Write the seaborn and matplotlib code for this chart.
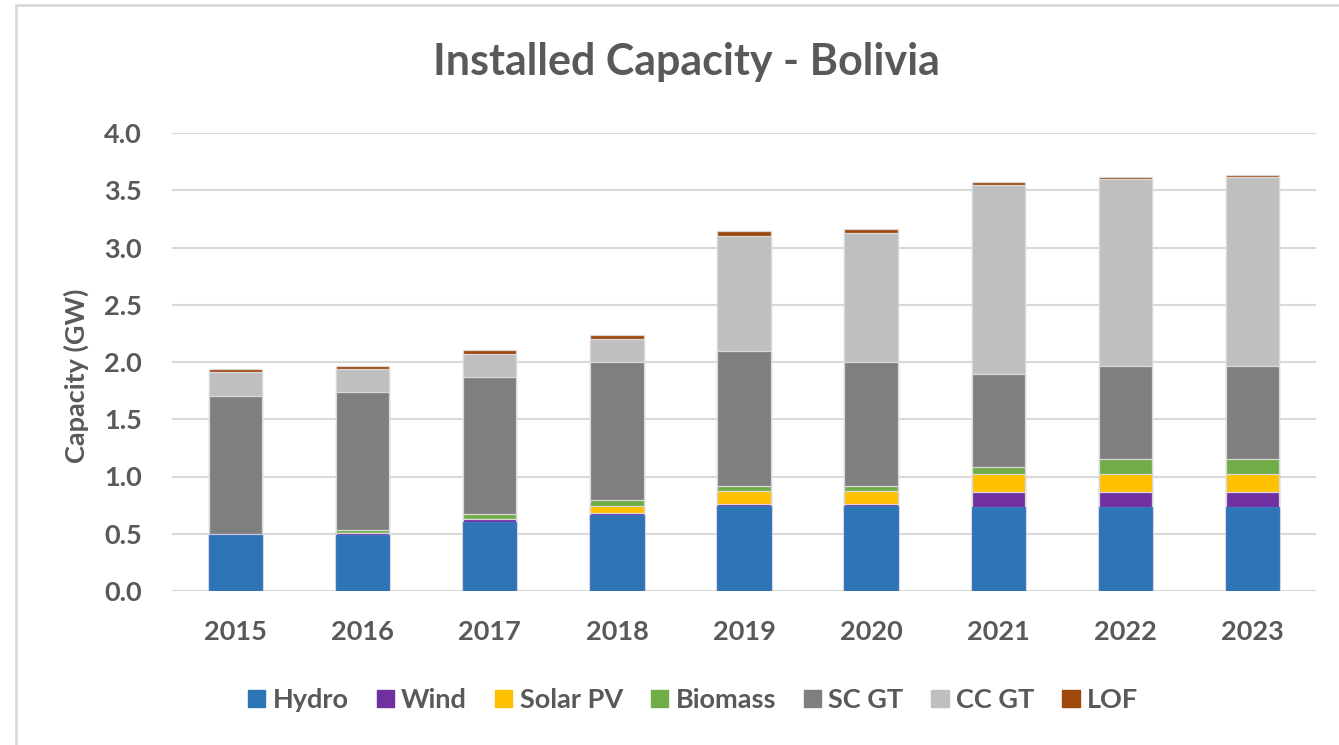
import matplotlib
matplotlib.use("Agg")
import matplotlib.pyplot as plt
import seaborn as sns
import pandas as pd
from matplotlib.patches import Rectangle, Patch

years = ["2015", "2016", "2017", "2018", "2019", "2020", "2021", "2022", "2023"]
hydro = [0.485, 0.490, 0.604, 0.663, 0.741, 0.741, 0.735, 0.735, 0.735]
wind = [0.000, 0.015, 0.021, 0.017, 0.017, 0.017, 0.128, 0.128, 0.128]
solar_pv = [0.000, 0.000, 0.000, 0.059, 0.116, 0.116, 0.163, 0.163, 0.163]
biomass = [0.017, 0.029, 0.044, 0.058, 0.047, 0.047, 0.058, 0.131, 0.131]
sc_gt = [1.200, 1.200, 1.197, 1.200, 1.177, 1.075, 0.811, 0.811, 0.811]
cc_gt = [0.207, 0.205, 0.207, 0.207, 1.003, 1.134, 1.649, 1.634, 1.648]
lof = [0.029, 0.029, 0.029, 0.029, 0.044, 0.029, 0.029, 0.017, 0.018]

series = ["Hydro", "Wind", "Solar PV", "Biomass", "SC GT", "CC GT", "LOF"]
colors = ["#2E75B6", "#7030A0", "#FFC000", "#70AD47", "#7F7F7F", "#BFBFBF", "#9E480E"]

df = pd.DataFrame({"Year": years, "Hydro": hydro, "Wind": wind, "Solar PV": solar_pv,
                   "Biomass": biomass, "SC GT": sc_gt, "CC GT": cc_gt, "LOF": lof})
cum = df[series].cumsum(axis=1)
cum["Year"] = years

sns.set_style("white")
plt.rcParams["font.family"] = ["Lato", "DejaVu Sans"]
txt = "#595959"

fig = plt.figure(figsize=(13.39, 7.45), dpi=100)
ax = fig.add_axes([172 / 1339, 1 - 591 / 745, 1144 / 1339, 458 / 745])

# draw cumulative totals from the top layer down so each layer covers the one above
for name, col in reversed(list(zip(series, colors))):
    edge = "#4472C4" if name == "Hydro" else "#D9D9D9"
    sns.barplot(data=cum, x="Year", y=name, color=col, width=0.42, saturation=1,
                edgecolor=edge, linewidth=0.9, ax=ax, zorder=3)

ax.set_ylim(0, 4)
ax.set_xlim(-0.5, 8.5)
ax.set_yticks([0, 0.5, 1, 1.5, 2, 2.5, 3, 3.5, 4])
ax.set_yticklabels([f"{v:.1f}" for v in ax.get_yticks()])
ax.yaxis.grid(True, color="#D9D9D9", linewidth=1.5, zorder=0)
ax.set_axisbelow(True)
for s in ax.spines.values():
    s.set_visible(False)
ax.set_xlabel("")
ax.set_ylabel("")
ax.tick_params(axis="x", length=0, pad=21, labelsize=19.5, labelcolor=txt)
ax.tick_params(axis="y", length=0, pad=21.5, labelsize=19.5, labelcolor=txt)
for lbl in ax.get_xticklabels() + ax.get_yticklabels():
    lbl.set_fontweight("bold")

fig.text(686 / 1339, 1 - 62 / 745, "Installed Capacity - Bolivia", ha="center", va="center",
         fontsize=31, fontweight="bold", color=txt)
fig.text(76 / 1339, 1 - 376 / 745, "Capacity (GW)", ha="center", va="center", rotation=90,
         fontsize=19.5, fontweight="bold", color=txt)

handles = [Patch(facecolor=c, edgecolor=c) for c in colors]
leg = fig.legend(handles, series, loc="center", bbox_to_anchor=(693 / 1339, 1 - 700 / 745), ncol=7,
                 frameon=False, fontsize=19.5, handlelength=0.64, handleheight=0.64, handletextpad=0.27,
                 columnspacing=1.03)
for t in leg.get_texts():
    t.set_color(txt)
    t.set_fontweight("bold")

fig.patches.append(Rectangle((16 / 1339, -0.1), 1.2, 1.1 - 5 / 745, transform=fig.transFigure,
                             fill=False, edgecolor="#D9D9D9", linewidth=2))

fig.savefig("out.png", dpi=100)
